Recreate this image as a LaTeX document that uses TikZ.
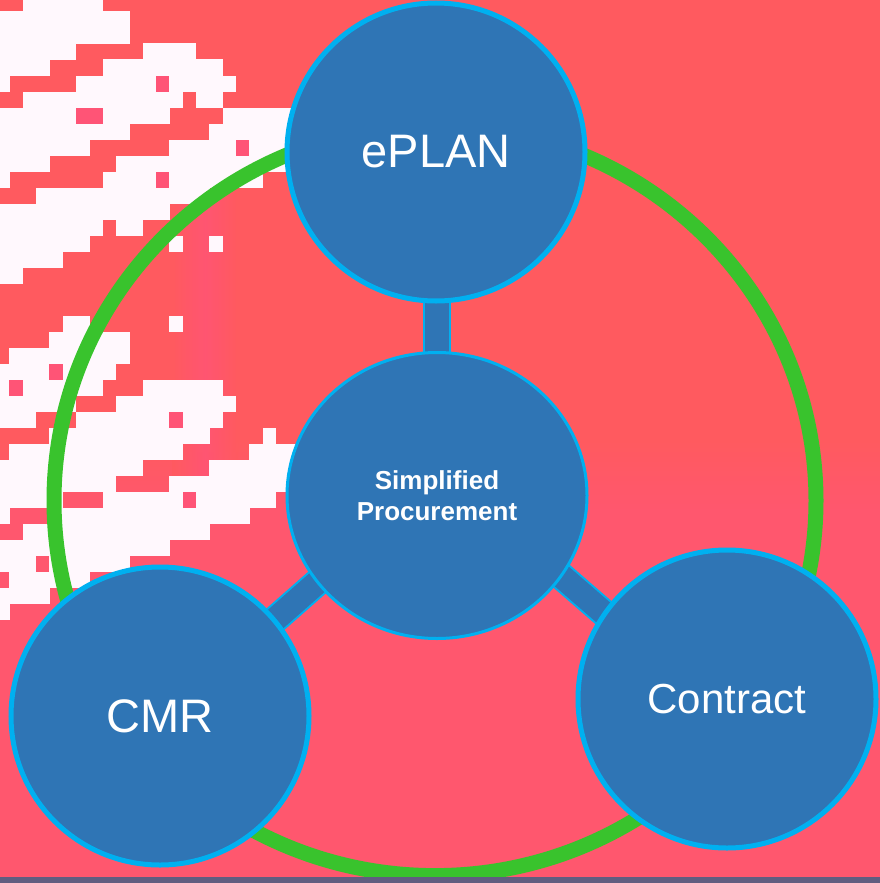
\documentclass[tikz,border=0pt]{standalone}
\usepackage{fontspec}
\setmainfont{Liberation Sans}
\usetikzlibrary{shapes.geometric}
\pgfdeclarelayer{bg}
\pgfdeclarelayer{mid}
\pgfsetlayers{bg,mid,main}
\definecolor{redA}{RGB}{255,90,95}
\definecolor{redB}{RGB}{255,87,110}
\definecolor{pinkC}{RGB}{255,84,118}
\definecolor{patW}{RGB}{255,248,253}
\definecolor{ringG}{RGB}{57,195,45}
\definecolor{nodeB}{RGB}{47,117,181}
\definecolor{edgeB}{RGB}{0,176,240}
\definecolor{stripG}{RGB}{97,93,128}
% white run of pixel cells: row, first column, last column
\newcommand\wrow[3]{\fill[patW] ({-4+13.3333*#2},{-4.5+16*#1}) rectangle ({9.6+13.3333*#3},{11.9+16*#1});}
% pinker single cell: row, column
\newcommand\pcell[2]{\fill[pinkC] ({-4+13.3333*#2},{-4.3+16*#1}) rectangle ({9.333+13.3333*#2},{11.7+16*#1});}
\begin{document}
\begin{tikzpicture}[x=1pt,y=-1pt,
  bigc/.style={circle, draw=edgeB, line width=5pt, fill=nodeB, minimum size=298pt,
    inner sep=0pt, text=white, font=\fontsize{47}{56}\selectfont},
  hub/.style={ellipse, draw=edgeB, line width=3pt, fill=nodeB, minimum width=300pt,
    minimum height=286pt, inner sep=0pt, text=white, align=center,
    font=\bfseries\fontsize{26}{31}\selectfont},
  barout/.style={line width=28pt, draw=edgeB, shorten <=-10pt, shorten >=-10pt},
  barin/.style={line width=24pt, draw=nodeB, shorten <=-12pt, shorten >=-12pt},
  ring/.style={draw=ringG, line width=15pt}]
\useasboundingbox (0,0) rectangle (880,883);
\begin{pgfonlayer}{bg}
  \fill[redA] (0,0) rectangle (880,441);
  \shade[top color=redA, bottom color=redB] (0,440) rectangle (880,511);
  \fill[redB] (0,510) rectangle (880,883);
  \shade[left color=redA, right color=redA, middle color=pinkC, opacity=0.8] (172,170) rectangle (238,480);
  % pixel pattern
  \wrow{0}{2}{7}
  \wrow{1}{0}{9}
  \wrow{2}{0}{9}
  \wrow{3}{0}{5} \wrow{3}{11}{14}
  \wrow{4}{0}{3} \wrow{4}{8}{16}
  \wrow{5}{0}{0} \wrow{5}{6}{11} \wrow{5}{13}{17}
  \wrow{6}{2}{13} \wrow{6}{15}{16}
  \wrow{7}{0}{5} \wrow{7}{8}{12} \wrow{7}{17}{22}
  \wrow{8}{0}{9} \wrow{8}{16}{22}
  \wrow{9}{0}{6} \wrow{9}{13}{17} \wrow{9}{19}{22}
  \wrow{10}{0}{3} \wrow{10}{9}{22}
  \wrow{11}{0}{0} \wrow{11}{8}{11} \wrow{11}{13}{19}
  \wrow{12}{3}{15}
  \wrow{13}{0}{12}
  \wrow{14}{0}{7} \wrow{14}{9}{10}
  \wrow{15}{0}{6} \wrow{15}{13}{13} \wrow{15}{16}{16}
  \wrow{16}{0}{4}
  \wrow{17}{0}{1}
  \wrow{20}{5}{6} \wrow{20}{13}{13}
  \wrow{21}{4}{9}
  \wrow{22}{1}{9}
  \wrow{23}{0}{3} \wrow{23}{5}{8}
  \wrow{24}{0}{0} \wrow{24}{2}{7} \wrow{24}{11}{16}
  \wrow{25}{0}{5} \wrow{25}{9}{17}
  \wrow{26}{0}{2} \wrow{26}{6}{12} \wrow{26}{14}{16}
  \wrow{27}{4}{15} \wrow{27}{20}{20}
  \wrow{28}{1}{13} \wrow{28}{19}{22}
  \wrow{29}{0}{10} \wrow{29}{16}{22}
  \wrow{30}{0}{8} \wrow{30}{13}{22}
  \wrow{31}{0}{4} \wrow{31}{8}{13} \wrow{31}{15}{20}
  \wrow{32}{0}{0} \wrow{32}{4}{18}
  \wrow{33}{2}{15}
  \wrow{34}{0}{12}
  \wrow{35}{0}{2} \wrow{35}{4}{9}
  \wrow{36}{1}{6}
  \wrow{37}{0}{3}
  \wrow{38}{0}{0}
  \pcell{5}{12} \pcell{7}{6} \pcell{7}{7} \pcell{9}{18} \pcell{11}{12}
  \pcell{23}{4} \pcell{24}{1} \pcell{26}{13} \pcell{31}{14}
  % green ring
  \draw[ring] (435,500.6) ellipse [x radius=381pt, y radius=375pt];
  % bottom strip
  \fill[stripG] (0,877) rectangle (880,883);
\end{pgfonlayer}
% nodes
\node[bigc] (eplan) at (436,152) {ePLAN};
\node[bigc] (cmr) at (160,716) {CMR};
\node[bigc, font=\fontsize{42}{50}\selectfont] (contract) at (727,699) {Contract};
\node[hub] (hub) at (437,495.5) {Simplified\\Procurement};
% connector bars
\begin{pgfonlayer}{mid}
  \draw[barout] (hub.north) -- (hub.north |- eplan.south);
  \draw[barin] (hub.north) -- (hub.north |- eplan.south);
  \draw[barout] (hub.216) -- (cmr.40);
  \draw[barin] (hub.216) -- (cmr.40);
  \draw[barout] (hub.327) -- (contract.145);
  \draw[barin] (hub.327) -- (contract.145);
\end{pgfonlayer}
\end{tikzpicture}
\end{document}
